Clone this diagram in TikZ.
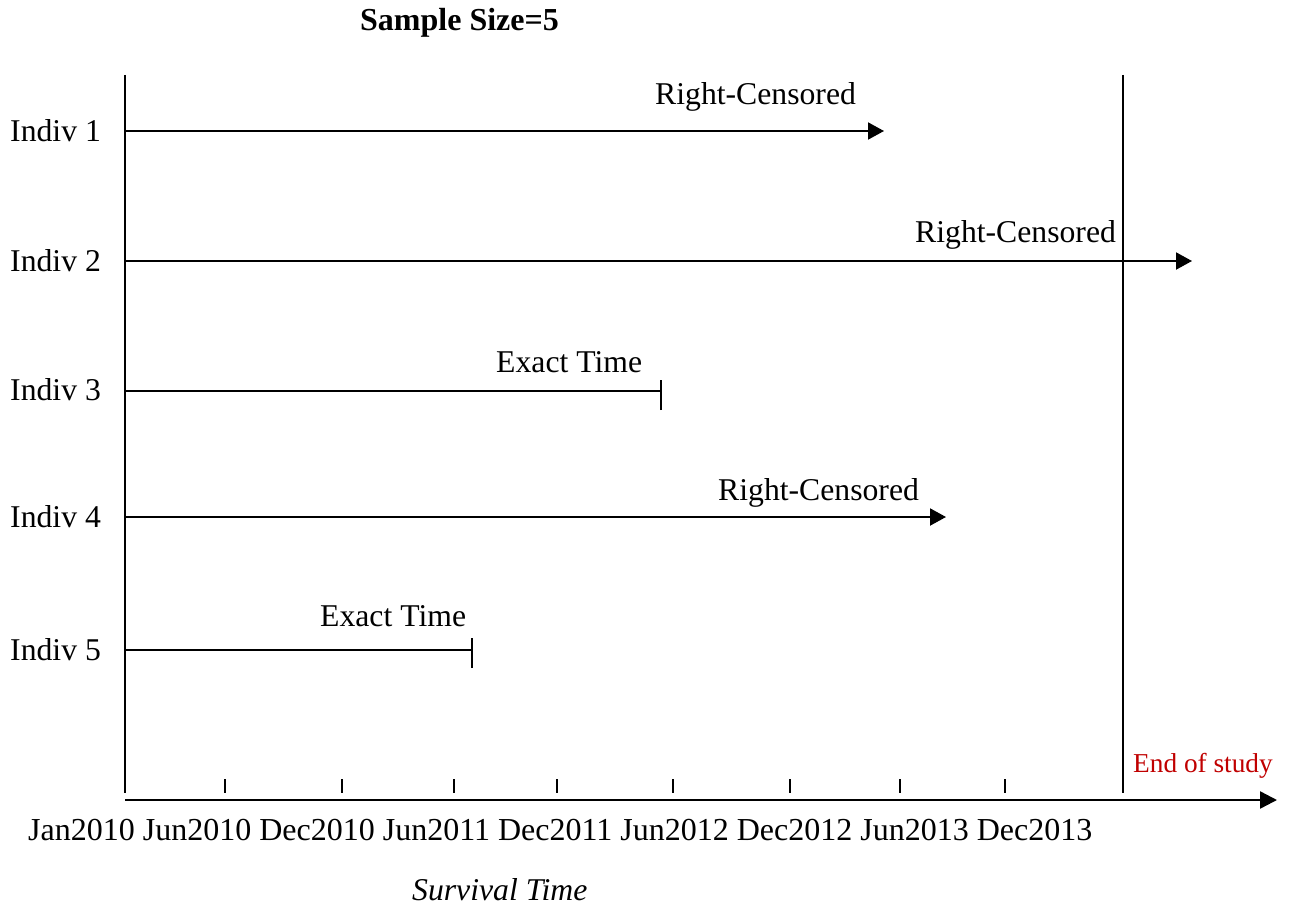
\documentclass[tikz,border=0pt]{standalone}
\usepackage{fontspec}
\setmainfont{Liberation Serif}
\usetikzlibrary{arrows.meta}
\definecolor{eosred}{HTML}{C00000}
\begin{document}
\begin{tikzpicture}[x=1pt,y=-1pt,
  txt/.style={inner sep=0pt,font=\fontsize{31.7}{38}\selectfont},
  lab/.style={txt,anchor=base west},
  line/.style={line width=2pt},
  arr/.style={line width=2pt,-{Triangle[length=16pt,width=17pt]}},
  bar/.style={line width=2pt},
  tick/.style={line width=1.6pt}]
\useasboundingbox (0,0) rectangle (1290,907);
% title
\node[lab,font=\fontsize{32}{38}\selectfont\bfseries] (title) at (360,31) {Sample Size=5};
% axes
\coordinate (ytop) at (125,75);
\coordinate (ybot) at (125,793);
\draw[line] (ytop) -- (ybot);
\coordinate (xs) at (125,800);
\coordinate (xe) at (1277,800);
\draw[line width=2.4pt,-{Triangle[length=17pt,width=17pt]}] (xs) -- (xe);
\coordinate (etop) at (1123,75);
\coordinate (ebot) at (1123,793);
\draw[line] (etop) -- (ebot);
\node[lab,font=\fontsize{27.3}{32}\selectfont,text=eosred] (eos) at (1133,772) {End of study};
% ticks
\foreach \x in {225,342,454,557,673,790,900,1005}{
  \draw[tick] (\x,779) -- (\x,793);
}
\node[lab,font=\fontsize{32}{38}\selectfont] (months) at (28,840) {Jan2010 Jun2010 Dec2010 Jun2011 Dec2011 Jun2012 Dec2012 Jun2013 Dec2013};
\node[lab,font=\fontsize{31.7}{38}\selectfont\itshape] (surv) at (412,900) {Survival Time};
% rows
\node[lab] (i1) at (10,141) {Indiv 1};
\node[lab] (i2) at (10,271) {Indiv 2};
\node[lab] (i3) at (10,400) {Indiv 3};
\node[lab] (i4) at (10,527) {Indiv 4};
\node[lab] (i5) at (10,660) {Indiv 5};
\coordinate (s1) at (125,131); \coordinate (e1) at (884,131);
\coordinate (s2) at (125,261); \coordinate (e2) at (1192,261);
\coordinate (s3) at (125,391); \coordinate (e3) at (661,391);
\coordinate (s4) at (125,517); \coordinate (e4) at (946,517);
\coordinate (s5) at (125,650); \coordinate (e5) at (472,650);
\draw[arr] (s1) -- (e1);
\draw[arr] (s2) -- (e2);
\draw[line] (s3) -- (e3);
\draw[bar] ([yshift=-19pt]e3) -- ([yshift=11pt]e3);
\draw[arr] (s4) -- (e4);
\draw[line] (s5) -- (e5);
\draw[bar] ([yshift=-18pt]e5) -- ([yshift=12pt]e5);
\node[lab] (r1) at (655,104) {Right-Censored};
\node[lab] (r2) at (915,242) {Right-Censored};
\node[lab] (x3) at (496,372) {Exact Time};
\node[lab] (r4) at (718,500) {Right-Censored};
\node[lab] (x5) at (320,626) {Exact Time};
\end{tikzpicture}
\end{document}
